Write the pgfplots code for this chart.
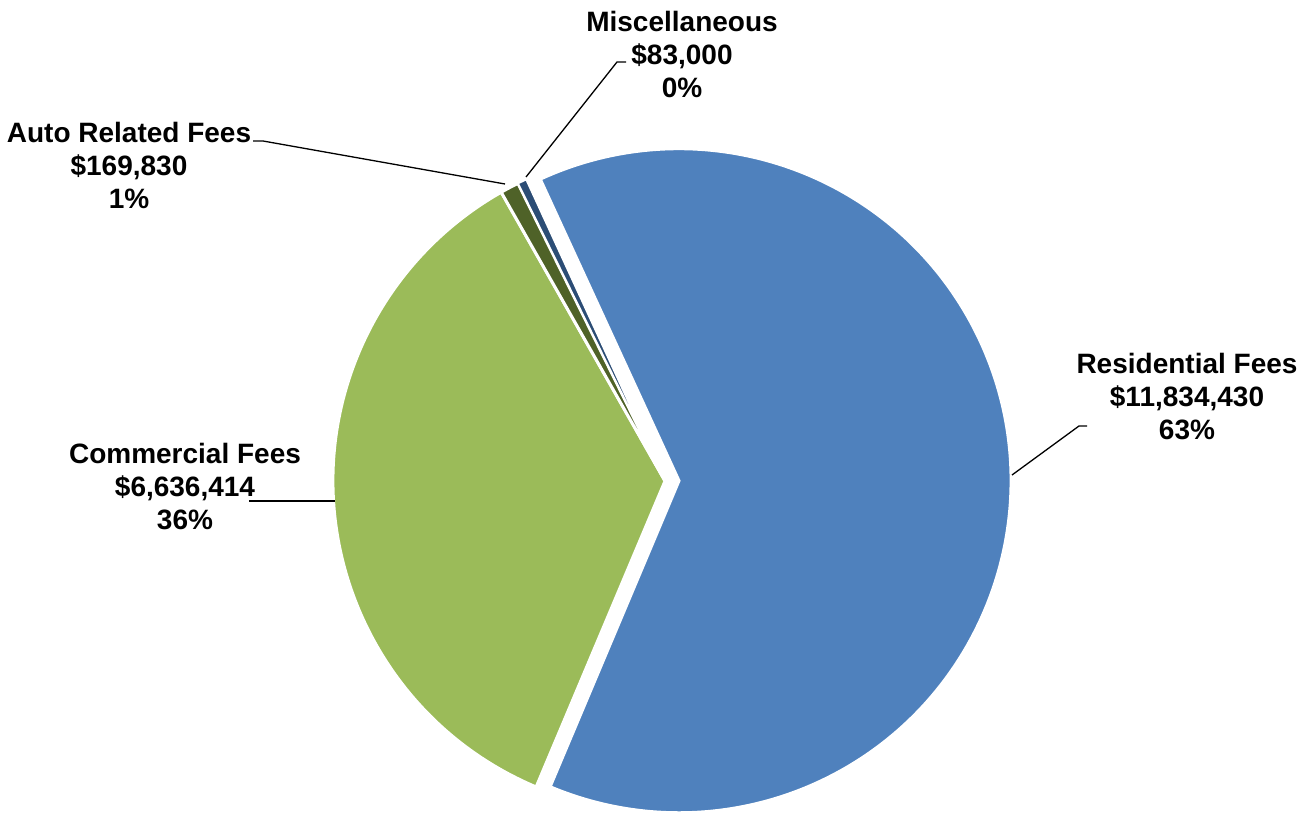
\documentclass[border=0pt]{standalone}
\usepackage{pgfplots}
\usepackage{pgfplotstable}
\pgfplotsset{compat=1.18}
\usepackage{fontspec}
\setmainfont{Liberation Sans}
\definecolor{cRes}{HTML}{4F81BD}
\definecolor{cCom}{HTML}{9BBB59}
\definecolor{cAuto}{HTML}{4F6228}
\definecolor{cMisc}{HTML}{2C4D75}
% values in millions of dollars
\pgfplotstableread{
name value
Residential 11.834430
Commercial 6.636414
Auto 0.169830
Misc 0.083000
}\piedata
\pgfplotstablegetelem{0}{value}\of\piedata \let\vA\pgfplotsretval
\pgfplotstablegetelem{1}{value}\of\piedata \let\vB\pgfplotsretval
\pgfplotstablegetelem{2}{value}\of\piedata \let\vC\pgfplotsretval
\pgfplotstablegetelem{3}{value}\of\piedata \let\vD\pgfplotsretval
\pgfmathsetmacro\tot{\vA+\vB+\vC+\vD}
\pgfmathsetmacro\aA{114.7}
\pgfmathsetmacro\aB{\aA-360*\vA/\tot}
\pgfmathsetmacro\aC{\aB-360*\vB/\tot}
\pgfmathsetmacro\aD{\aC-360*\vC/\tot}
\pgfmathsetmacro\aE{\aD-360*\vD/\tot}
\pgfmathsetmacro\bisA{(\aA+\aB)/2}
\def\R{332pt}
\begin{document}
\begin{tikzpicture}
\begin{axis}[
  width=1310pt, height=815pt, scale only axis,
  xmin=0, xmax=1310, ymin=0, ymax=815,
  hide axis, clip=false,
]
\coordinate (LL) at (axis cs:0,0);
\coordinate (UR) at (axis cs:1310,815);
\coordinate (C) at (axis cs:665,334);
% Residential (exploded)
\fill[cRes, draw=white, line width=3pt] ([shift={(\bisA:14pt)}]C) -- ++(\aA:\R) arc[start angle=\aA, end angle=\aB, radius=\R] -- cycle;
\fill[cCom, draw=white, line width=3pt] (C) -- ++(\aB:\R) arc[start angle=\aB, end angle=\aC, radius=\R] -- cycle;
\fill[cAuto, draw=white, line width=3pt] (C) -- ++(\aC:\R) arc[start angle=\aC, end angle=\aD, radius=\R] -- cycle;
\fill[cMisc, draw=white, line width=2pt] (C) -- ++(\aD:\R) arc[start angle=\aD, end angle=\aE, radius=\R] -- cycle;
% leader lines
\draw[black, line width=1.3pt] (axis cs:526,638) -- (axis cs:617,753) -- (axis cs:626,753);
\draw[black, line width=1.3pt] (axis cs:505,631) -- (axis cs:263,674) -- (axis cs:253,674);
\draw[black, line width=1.3pt] (axis cs:1012,340) -- (axis cs:1079,389) -- (axis cs:1087,389);
\draw[black, line width=1.3pt] (axis cs:335,314) -- (axis cs:249,314);
% labels
\tikzset{lbl/.style={align=center, font=\fontsize{28}{33}\selectfont\bfseries, inner sep=0pt}}
\node[lbl] at (axis cs:682,761) {Miscellaneous\\\$83,000\\0\%};
\node[lbl] at (axis cs:129,650) {Auto Related Fees\\\$169,830\\1\%};
\node[lbl] at (axis cs:1187,418) {Residential Fees\\\$11,834,430\\63\%};
\node[lbl] at (axis cs:185,328) {Commercial Fees\\\$6,636,414\\36\%};
\end{axis}
\pgfresetboundingbox
\path (LL) rectangle (UR);
\end{tikzpicture}
\end{document}
